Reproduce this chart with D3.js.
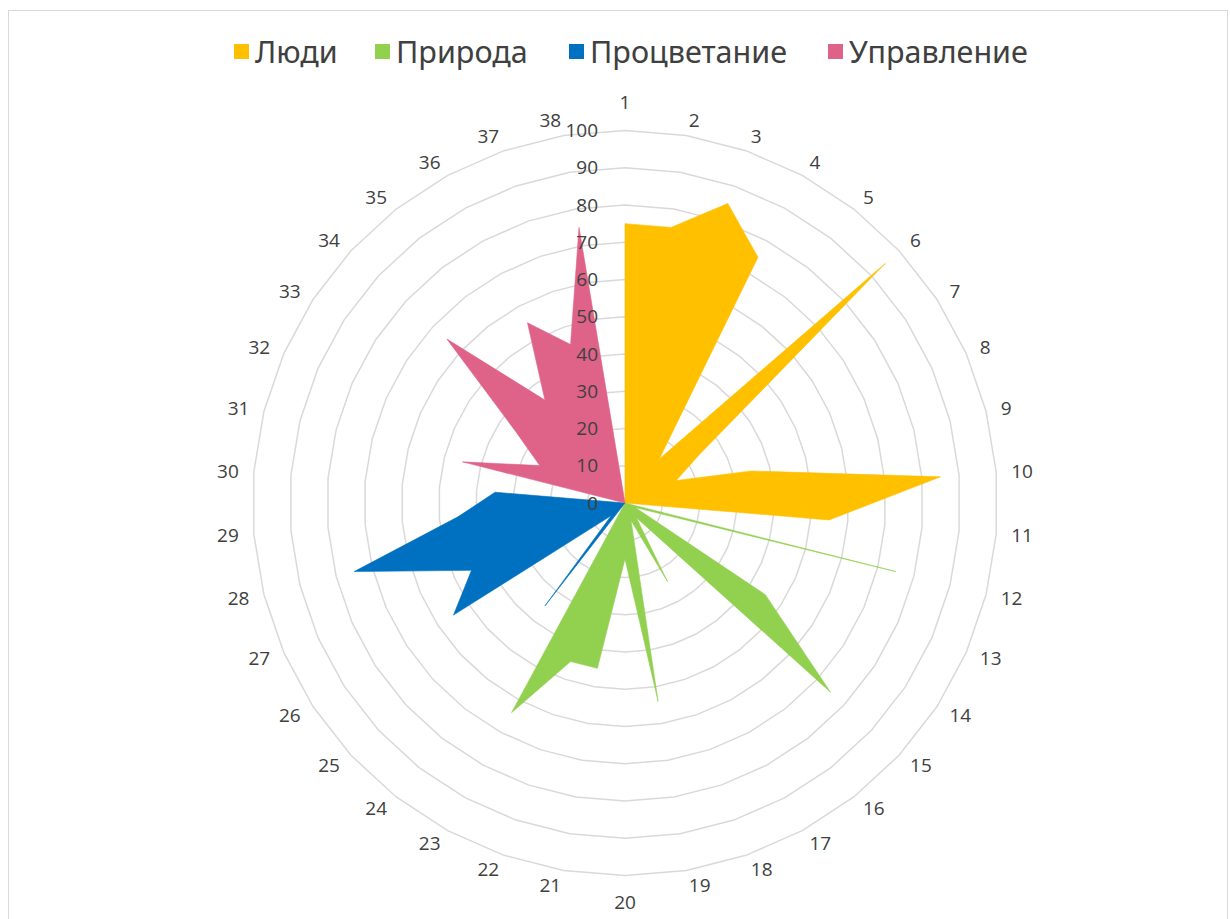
<!DOCTYPE html>
<html><head><meta charset="utf-8">
<script src="https://cdn.jsdelivr.net/npm/d3@7"></script>
<style>body{margin:0;background:#fff}svg{display:block}</style>
</head><body><svg id="c" width="1230" height="919"></svg>
<script>
const categories = ["1","2","3","4","5","6","7","8","9","10","11","12","13","14","15","16","17","18","19","20","21","22","23","24","25","26","27","28","29","30","31","32","33","34","35","36","37","38"];
const seriesNames = ["Люди","Природа","Процветание","Управление"];
const people      = [75,75,85,75,15,95,24,15,35,85,55,0,0,0,0,0,0,0,0,0,0,0,0,0,0,0,0,0,0,0,0,0,0,0,0,0,0,0];
const nature      = [0,0,0,0,0,0,0,0,0,0,0,75,3,45,75,5,24,5,54,15,45,45,64,0,0,0,0,0,0,0,0,0,0,0,0,0,0,0];
const prosperity  = [0,0,0,0,0,0,0,0,0,0,0,0,0,0,0,0,0,0,0,0,0,0,0,35,5,55,45,75,45,35,0,0,0,0,0,0,0,0];
const governance  = [0,0,0,0,0,0,0,0,0,0,0,0,0,0,0,0,0,0,0,0,0,0,0,0,0,0,0,0,0,0,45,25,35,65,35,55,45,75];
const tickValues  = [0,10,20,30,40,50,60,70,80,90,100];
const colors = ["#FFC000","#92D050","#0070C0","#DF6289"];

const svg = d3.select("#c");
const cx = 625, cy = 503, R = 372.5;
const r = d3.scaleLinear().domain([0,100]).range([0,R]);
const ang = d3.scaleLinear().domain([0, categories.length]).range([0, 2*Math.PI]);

// frame
svg.append("rect").attr("x",8.5).attr("y",10.5).attr("width",1219).attr("height",930)
  .attr("fill","none").attr("stroke","#d9d9d9").attr("stroke-width",1);

const g = svg.append("g").attr("transform",`translate(${cx},${cy})`);

// grid polygons
const gridLine = d3.lineRadial().angle((d,i)=>ang(i)).curve(d3.curveLinearClosed);
tickValues.filter(v=>v>0).forEach(v=>{
  g.append("path").attr("d", gridLine.radius(()=>r(v))(categories))
    .attr("fill","none").attr("stroke","#d9d9d9").attr("stroke-width",1.5);
});

// series areas
const all = [people, nature, prosperity, governance];
const area = d3.lineRadial().angle((d,i)=>ang(i)).radius(d=>r(d)).curve(d3.curveLinearClosed);
all.forEach((s,k)=>{
  g.append("path").attr("d", area(s)).attr("fill", colors[k])
    .attr("stroke", colors[k]).attr("stroke-width",0.6).attr("stroke-linejoin","miter");
});

// tick labels
g.selectAll("text.tick").data(tickValues).join("text").attr("class","tick")
  .attr("x",-27).attr("y",d=>-r(d)).attr("dy","0.35em").attr("text-anchor","end")
  .attr("font-family","'Open Sans', sans-serif").attr("font-size",19).attr("fill","#404040")
  .text(d=>d);

// category labels
const r0 = R + 15;
categories.forEach((c,i)=>{
  const a = ang(i), s = Math.sin(a), co = Math.cos(a);
  const t = g.append("text").attr("font-family","'Open Sans', sans-serif").attr("font-size",19)
    .attr("fill","#404040").attr("dy","0.35em").text(c);
  let x = r0*s, y = -r0*co, anchor;
  if (Math.abs(s) < 1e-6) { anchor = "middle"; y += co > 0 ? -13 : 12; }
  else anchor = s > 0 ? "start" : "end";
  t.attr("text-anchor", anchor).attr("x", x).attr("y", y);
});

// legend
const legX = [234, 375, 569, 828];
seriesNames.forEach((n,k)=>{
  svg.append("rect").attr("x",legX[k]).attr("y",44).attr("width",15).attr("height",15).attr("fill",colors[k]);
  svg.append("text").attr("x",legX[k]+21).attr("y",63).attr("font-family","'Noto Sans', sans-serif")
    .attr("font-size",30.5).attr("fill","#404040").text(n);
});
</script></body></html>
